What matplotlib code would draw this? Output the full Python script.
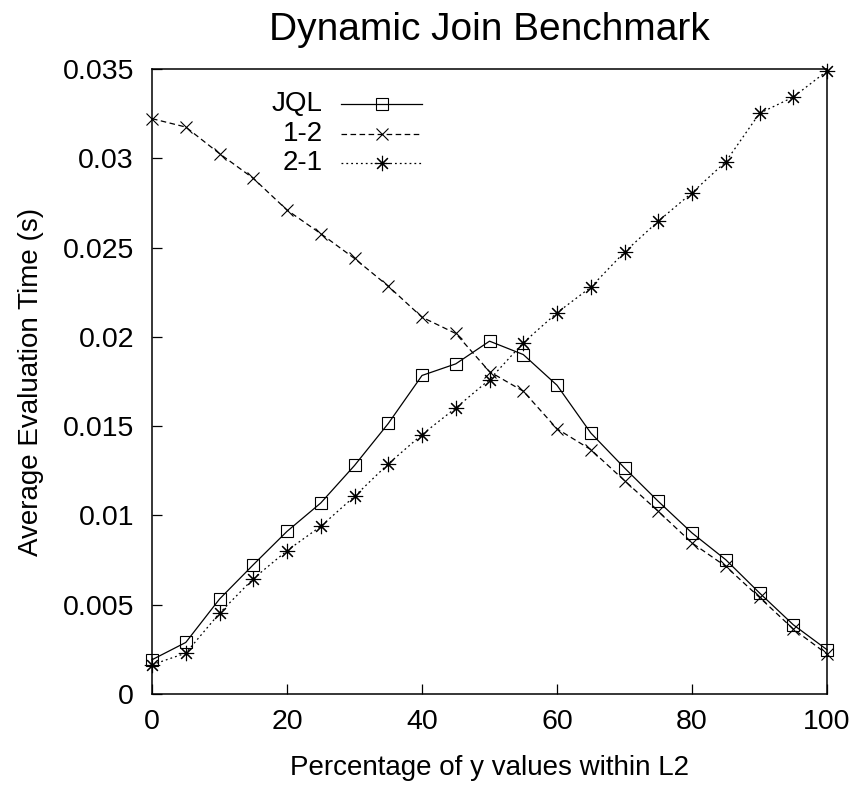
import matplotlib
matplotlib.use("Agg")
import matplotlib.pyplot as plt
from matplotlib.lines import Line2D

# ── data ──────────────────────────────────────────────────────────────────────
pct = [0, 5, 10, 15, 20, 25, 30, 35, 40, 45, 50,
       55, 60, 65, 70, 75, 80, 85, 90, 95, 100]

jql = [0.00192, 0.00289, 0.00532, 0.00724, 0.00911, 0.01070, 0.01280,
       0.01515, 0.01784, 0.01849, 0.01976, 0.01901, 0.01729, 0.01462,
       0.01266, 0.01079, 0.00902, 0.00752, 0.00566, 0.00388, 0.00248]

one_two = [0.03222, 0.03175, 0.03026, 0.02888, 0.02710, 0.02578, 0.02439,
           0.02284, 0.02110, 0.02019, 0.01805, 0.01696, 0.01485, 0.01369,
           0.01195, 0.01023, 0.00846, 0.00715, 0.00541, 0.00364, 0.00224]

two_one = [0.00164, 0.00229, 0.00453, 0.00646, 0.00803, 0.00939, 0.01107,
           0.01289, 0.01453, 0.01602, 0.01761, 0.01967, 0.02135, 0.02278,
           0.02475, 0.02648, 0.02807, 0.02981, 0.03252, 0.03343, 0.03489]

series_labels = ["JQL", "1-2", "2-1"]
yticks = [0, 0.005, 0.01, 0.015, 0.02, 0.025, 0.03, 0.035]
ytick_labels = ["0", "0.005", "0.01", "0.015", "0.02", "0.025", "0.03", "0.035"]
xticks = [0, 20, 40, 60, 80, 100]

# ── style ─────────────────────────────────────────────────────────────────────
plt.rcParams["font.family"] = ["Liberation Sans", "DejaVu Sans"]
plt.rcParams["lines.scale_dashes"] = False

asterisk = (8, 2, 0)
styles = [
    dict(ls="-", marker="s", ms=9, mfc="none"),
    dict(ls=(0, (4, 2.5)), marker="x", ms=9),
    dict(ls=(0, (1.3, 2.2)), marker=asterisk, ms=11),
]

fig = plt.figure(figsize=(8.58, 7.86), dpi=100)
ax = fig.add_axes([0.1772, 0.117, 0.9639 - 0.1772, 0.9122 - 0.117])

for vals, st in zip([jql, one_two, two_one], styles):
    ax.plot(pct, vals, color="black", lw=0.9, mew=0.8, clip_on=False, **st)

ax.set_xlim(0, 100)
ax.set_ylim(0, 0.035)
ax.set_xticks(xticks)
ax.set_yticks(yticks)
ax.set_yticklabels(ytick_labels)
ax.tick_params(direction="in", length=7, width=0.9, labelsize=20.5,
               top=False, right=False)
ax.tick_params(axis="y", pad=13)
ax.tick_params(axis="x", pad=11)
for sp in ax.spines.values():
    sp.set_linewidth(1.1)

ax.set_xlabel("Percentage of y values within L2", fontsize=20, labelpad=14)
ax.set_ylabel("Average Evaluation Time (s)", fontsize=20, labelpad=13)
ax.set_title("Dynamic Join Benchmark", fontsize=28, pad=21)

# gnuplot-style key: right-aligned label, then line sample with marker
row_y = [0.944, 0.896, 0.850]
for lab, st, yy in zip(series_labels, styles, row_y):
    ax.text(0.253, yy, lab, transform=ax.transAxes, ha="right", va="center",
            fontsize=20)
    ax.add_line(Line2D([0.28, 0.40], [yy, yy], transform=ax.transAxes,
                       color="black", lw=0.9, ls=st["ls"]))
    ax.add_line(Line2D([0.34], [yy], transform=ax.transAxes, color="black",
                       ls="none", marker=st["marker"], ms=st["ms"],
                       mfc="none", mew=0.8))

fig.savefig("out.png", dpi=100)
